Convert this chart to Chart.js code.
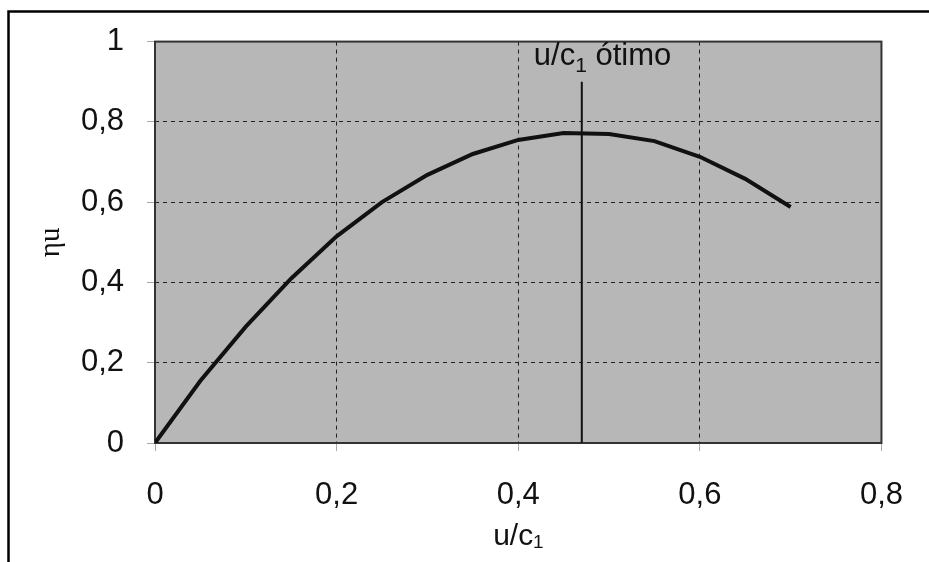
<!DOCTYPE html>
<html>
<head>
<meta charset="utf-8">
<title>Rendimento periférico</title>
<script src="https://cdn.jsdelivr.net/npm/chart.js@4.4.0/dist/chart.umd.min.js"></script>
<style>
  html, body { margin: 0; padding: 0; background: #fff; }
  canvas { display: block; }
</style>
</head>
<body>
<canvas id="grafico" width="929" height="562"></canvas>
<script>
// razão de velocidades u/c1 e rendimento periférico
var uc1 = [0, 0.05, 0.1, 0.15, 0.2, 0.25, 0.3, 0.35, 0.4, 0.45, 0.5, 0.55, 0.6, 0.65, 0.7];
var etaU = [0, 0.155, 0.29, 0.41, 0.515, 0.6, 0.668, 0.72, 0.755, 0.772, 0.77, 0.752, 0.713, 0.658, 0.588];

// linha vertical do ponto ótimo
var ucOtimo = [0.47, 0.47];
var etaOtimo = [0, 0.9];

var xTicks = ['0', '0,2', '0,4', '0,6', '0,8'];
var yTicks = ['0', '0,2', '0,4', '0,6', '0,8', '1'];

function pontos(xs, ys) {
  var out = [];
  for (var i = 0; i < xs.length; i++) {
    out.push({ x: xs[i], y: ys[i] });
  }
  return out;
}

var fonteEixo = { family: "'Liberation Sans', Arial, sans-serif", size: 31 };

// fundo cinza da área do gráfico e moldura externa
var fundo = {
  id: 'fundo',
  beforeDraw: function (chart) {
    var a = chart.chartArea;
    var ctx = chart.ctx;
    ctx.save();
    ctx.fillStyle = '#b7b7b7';
    ctx.fillRect(a.left, a.top, a.right - a.left, a.bottom - a.top);
    ctx.restore();
  },
  beforeDatasetsDraw: function (chart) {
    var a = chart.chartArea;
    var ctx = chart.ctx;
    ctx.save();
    ctx.strokeStyle = '#333';
    ctx.lineWidth = 2;
    ctx.strokeRect(a.left, a.top, a.right - a.left, a.bottom - a.top);
    ctx.restore();
  },
  afterDraw: function (chart) {
    var ctx = chart.ctx;
    ctx.save();
    ctx.strokeStyle = '#000';
    ctx.lineWidth = 2.5;
    ctx.beginPath();
    ctx.moveTo(8.5, chart.height);
    ctx.lineTo(8.5, 11.5);
    ctx.lineTo(chart.width, 11.5);
    ctx.stroke();
    ctx.restore();
  }
};

// rótulo "u/c1 ótimo" junto à linha vertical
var rotuloOtimo = {
  id: 'rotuloOtimo',
  afterDatasetsDraw: function (chart) {
    var ctx = chart.ctx;
    var px = chart.scales.x.getPixelForValue(ucOtimo[0]);
    var py = chart.scales.y.getPixelForValue(etaOtimo[1]);
    var x = px - 48;
    var y = py - 17;
    ctx.save();
    ctx.fillStyle = '#111';
    ctx.textBaseline = 'alphabetic';
    ctx.textAlign = 'left';
    ctx.font = "31px 'Liberation Sans', Arial, sans-serif";
    ctx.fillText('u/c', x, y);
    x += ctx.measureText('u/c').width;
    ctx.font = "21px 'Liberation Sans', Arial, sans-serif";
    ctx.fillText('1', x, y + 7);
    x += ctx.measureText('1').width;
    ctx.font = "31px 'Liberation Sans', Arial, sans-serif";
    ctx.fillText(' ótimo', x, y);
    ctx.restore();
  }
};

var ctx = document.getElementById('grafico').getContext('2d');
var grafico = new Chart(ctx, {
  type: 'line',
  data: {
    datasets: [{
      data: pontos(uc1, etaU),
      borderColor: '#111',
      borderWidth: 4,
      pointRadius: 0,
      tension: 0,
      fill: false
    }, {
      data: pontos(ucOtimo, etaOtimo),
      borderColor: '#111',
      borderWidth: 2,
      pointRadius: 0,
      fill: false
    }]
  },
  options: {
    responsive: false,
    animation: false,
    layout: { padding: { top: 40, right: 23, left: 0, bottom: 0 } },
    plugins: {
      legend: { display: false },
      tooltip: { enabled: false }
    },
    scales: {
      x: {
        type: 'linear',
        min: 0,
        max: 0.8,
        afterFit: function (scale) { scale.height = 119; },
        ticks: {
          stepSize: 0.2,
          color: '#111',
          font: fonteEixo,
          padding: 26,
          maxRotation: 0,
          callback: function (v, i) { return xTicks[i]; }
        },
        grid: {
          color: '#222',
          lineWidth: 1,
          tickLength: 8,
          tickColor: '#aaa',
          tickBorderDash: []
        },
        border: { display: false, dash: [4, 4] },
        title: {
          display: true,
          text: 'u/c₁',
          color: '#111',
          font: { family: "'Liberation Sans', Arial, sans-serif", size: 30, lineHeight: 1.2 },
          padding: { top: 0, bottom: 7 }
        }
      },
      y: {
        min: 0,
        max: 1,
        afterFit: function (scale) { scale.width = 155; },
        ticks: {
          stepSize: 0.2,
          color: '#111',
          font: fonteEixo,
          padding: 23,
          callback: function (v, i) { return yTicks[i]; }
        },
        grid: {
          color: '#222',
          lineWidth: 1,
          tickLength: 8,
          tickColor: '#aaa',
          tickBorderDash: []
        },
        border: { display: false, dash: [4, 4] },
        title: {
          display: true,
          text: 'ηu',
          color: '#111',
          font: { family: "'Liberation Serif', 'DejaVu Serif', serif", size: 29, lineHeight: 1.2 },
          padding: { top: 34, bottom: 0 }
        }
      }
    }
  },
  plugins: [fundo, rotuloOtimo]
});
</script>
</body>
</html>
